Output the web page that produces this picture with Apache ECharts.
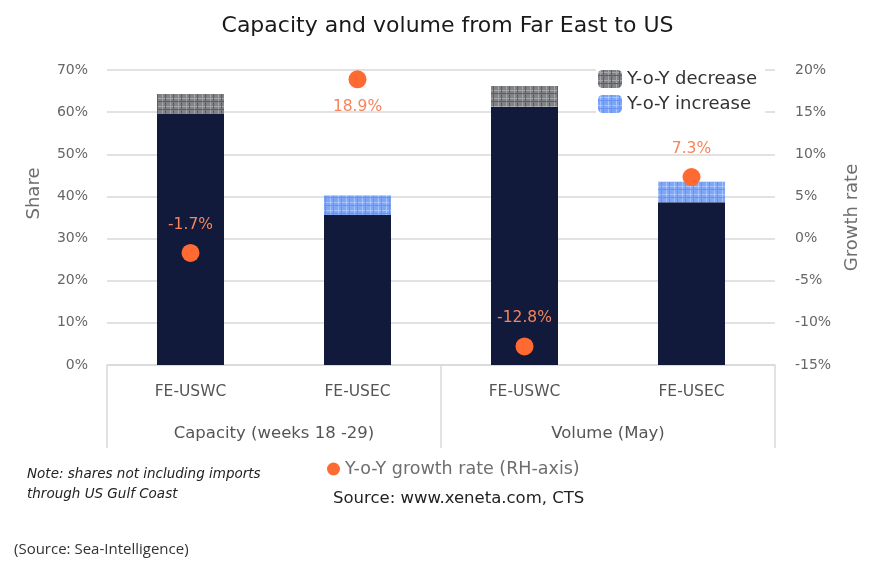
<!DOCTYPE html>
<html>
<head>
<meta charset="utf-8">
<script src="https://cdn.jsdelivr.net/npm/echarts@6/dist/echarts.min.js"></script>
<style>
html,body{margin:0;padding:0;background:#fff;}
#c{width:895px;height:572px;}
</style>
</head>
<body>
<div id="c"></div>
<script>
// ---- data ----
var categories = ['FE-USWC', 'FE-USEC', 'FE-USWC', 'FE-USEC'];
var groups = ['Capacity (weeks 18 -29)', 'Volume (May)'];
var baseShare = [59.7, 35.6, 61.3, 38.6];
var yoyDecrease = [4.6, 0, 4.9, 0];
var yoyIncrease = [0, 4.6, 0, 4.9];
var growthRate = [-1.7, 18.9, -12.8, 7.3];
var leftTicks = [0, 70, 10];
var rightTicks = [-15, 20, 5];

function makePattern(base, light, dark) {
  var cv = document.createElement('canvas');
  cv.width = 8; cv.height = 8;
  var ctx = cv.getContext('2d');
  ctx.fillStyle = base; ctx.fillRect(0, 0, 8, 8);
  ctx.fillStyle = light;
  ctx.fillRect(0, 2, 8, 1);
  ctx.fillRect(2, 0, 1, 8);
  ctx.fillStyle = dark;
  ctx.fillRect(0, 5, 8, 1);
  ctx.fillRect(5, 0, 1, 8);
  return { image: cv, repeat: 'repeat' };
}
var decPattern = makePattern('#818286', '#a6a7ab', '#5f6064');
var incPattern = makePattern('#7ea6f8', '#a9c5fb', '#6894f5');

var FONT = 'DejaVu Sans';
var chart = echarts.init(document.getElementById('c'), null, { renderer: 'canvas' });

var scatterData = growthRate.map(function (v) {
  return { value: v, label: { position: v > 15 ? 'bottom' : 'top' } };
});
function nz(arr) { return arr.map(function (v) { return v === 0 ? '-' : v; }); }

chart.setOption({
  backgroundColor: '#fff',
  textStyle: { fontFamily: FONT },
  title: {
    text: 'Capacity and volume from Far East to US',
    left: 'center', top: 10,
    textStyle: { fontFamily: FONT, fontSize: 22, fontWeight: 'normal', color: '#1a1a1a' }
  },
  grid: { left: 107, right: 120, top: 70, bottom: 207, containLabel: false },
  legend: [
    {
      data: ['Y-o-Y decrease', 'Y-o-Y increase'],
      orient: 'vertical', left: 596, top: 68,
      itemWidth: 24, itemHeight: 18, itemGap: 7,
      backgroundColor: '#fff', padding: [2, 8, 2, 2],
      textStyle: { fontFamily: FONT, fontSize: 18, color: '#333' }
    },
    {
      data: [{ name: 'Y-o-Y growth rate (RH-axis)', icon: 'circle' }],
      left: 322, top: 455, itemWidth: 13, itemHeight: 13, itemGap: 3,
      textStyle: { fontFamily: FONT, fontSize: 17.5, color: '#6e6e6e' }
    }
  ],
  xAxis: [
    {
      type: 'category', data: categories, position: 'bottom',
      axisLine: { show: true, onZero: false, lineStyle: { color: '#d9d9d9', width: 1.5 } },
      axisTick: { show: false },
      axisLabel: { margin: 19, fontFamily: FONT, fontSize: 15.5, color: '#555' }
    },
    {
      type: 'category', data: groups, position: 'bottom', offset: 0,
      axisLine: { show: false, onZero: false },
      axisTick: { show: true, inside: false, length: 83, interval: 0, lineStyle: { color: '#d9d9d9', width: 1.5 } },
      axisLabel: { margin: 60, fontFamily: FONT, fontSize: 16.5, color: '#555' }
    }
  ],
  yAxis: [
    {
      type: 'value', min: leftTicks[0], max: leftTicks[1], interval: leftTicks[2],
      name: 'Share', nameLocation: 'middle', nameGap: 64,
      nameTextStyle: { fontFamily: FONT, fontSize: 18, color: '#6e6e6e', padding: [0, 0, 0, 48] },
      axisLine: { show: false }, axisTick: { show: false },
      axisLabel: { formatter: '{value}%', margin: 19, fontFamily: FONT, fontSize: 14, color: '#666' },
      splitLine: { lineStyle: { color: '#d9d9d9', width: 1.5 } }
    },
    {
      type: 'value', min: rightTicks[0], max: rightTicks[1], interval: rightTicks[2],
      name: 'Growth rate', nameLocation: 'middle', nameGap: 68,
      nameTextStyle: { fontFamily: FONT, fontSize: 18, color: '#6e6e6e' },
      axisLine: { show: false }, axisTick: { show: false },
      axisLabel: { formatter: '{value}%', margin: 20, fontFamily: FONT, fontSize: 14, color: '#666' },
      splitLine: { show: false }
    }
  ],
  series: [
    {
      name: 'Share', type: 'bar', stack: 's', barWidth: 67,
      data: baseShare, itemStyle: { color: '#111a3b' }
    },
    {
      name: 'Y-o-Y decrease', type: 'bar', stack: 's', barWidth: 67,
      data: nz(yoyDecrease), itemStyle: { color: decPattern }
    },
    {
      name: 'Y-o-Y increase', type: 'bar', stack: 's', barWidth: 67,
      data: nz(yoyIncrease), itemStyle: { color: incPattern }
    },
    {
      name: 'Y-o-Y growth rate (RH-axis)', type: 'scatter', yAxisIndex: 1,
      symbolSize: 18, itemStyle: { color: '#ff6a33', opacity: 1 },
      data: scatterData, z: 5,
      label: {
        show: true, distance: 11, formatter: function (p) { return p.value + '%'; },
        fontFamily: FONT, fontSize: 15.5, color: '#f7845a'
      }
    }
  ],
  graphic: [
    { type: 'text', left: 27, top: 467, style: { text: 'Note: shares not including imports', font: 'italic 13.5px "DejaVu Sans"', fill: '#222' } },
    { type: 'text', left: 27, top: 487, style: { text: 'through US Gulf Coast', font: 'italic 13.5px "DejaVu Sans"', fill: '#222' } },
    { type: 'text', left: 333, top: 490, style: { text: 'Source: www.xeneta.com, CTS', font: '16.5px "DejaVu Sans"', fill: '#222' } },
    { type: 'text', left: 14, top: 542, style: { text: '(Source: Sea-Intelligence)', font: '15px "Open Sans"', fill: '#333' } }
  ]
});
</script>
</body>
</html>
